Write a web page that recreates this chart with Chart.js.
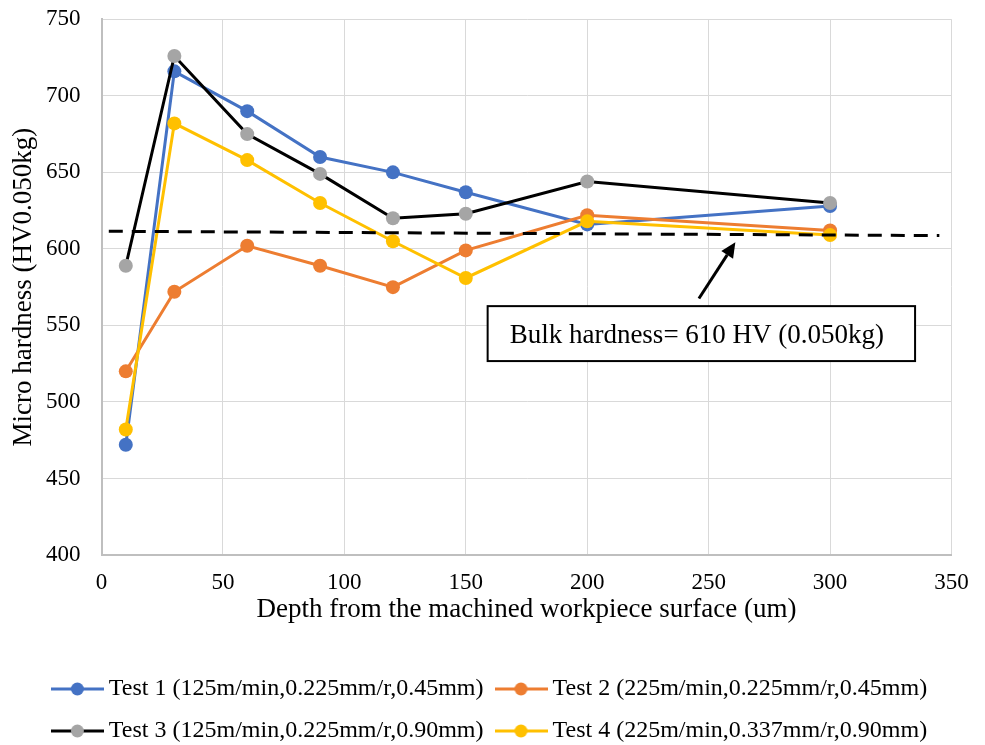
<!DOCTYPE html>
<html><head><meta charset="utf-8">
<script src="https://cdn.jsdelivr.net/npm/chart.js@4"></script>
<style>html,body{margin:0;padding:0;background:#fff}#wrap{width:985px;height:745px;position:relative}</style>
</head><body><div id="wrap"><canvas id="c"></canvas></div>
<script>
// ---- data ----
const depths = [10, 30, 60, 90, 120, 150, 200, 300];
const test1 = [472, 716, 690, 660, 650, 637, 616, 628];
const test2 = [520, 572, 602, 589, 575, 599, 622, 612];
const test3 = [589, 726, 675, 649, 620, 623, 644, 630];
const test4 = [482, 682, 658, 630, 605, 581, 618, 609];
const seriesNames = [
  'Test 1 (125m/min,0.225mm/r,0.45mm)',
  'Test 2 (225m/min,0.225mm/r,0.45mm)',
  'Test 3 (125m/min,0.225mm/r,0.90mm)',
  'Test 4 (225m/min,0.337mm/r,0.90mm)'
];
const bulkHardness = 610;
const bulkLineX = [3, 345];
const bulkLineY = [611.5, 608.7];
const noteText = 'Bulk hardness= ' + bulkHardness + ' HV (0.050kg)';
const noteBoxX = [159, 335];
const noteBoxY = [526.7, 562.6];
const arrowX = [246, 261];
const arrowY = [567.6, 604.3];
const xTitle = 'Depth from the machined workpiece surface (um)';
const yTitle = 'Micro hardness (HV0.050kg)';

// ---- styles ----
const FONT = "'Liberation Serif', 'Times New Roman', serif";
const lineColors = ['#4472C4', '#ED7D31', '#000000', '#FFC000'];
const markColors = ['#4472C4', '#ED7D31', '#A5A5A5', '#FFC000'];
const seriesData = [test1, test2, test3, test4];
const drawOrder = [4, 3, 2, 1];

function legendImage(line, mark) {
  const c = document.createElement('canvas');
  c.width = 53; c.height = 16;
  const g = c.getContext('2d');
  g.strokeStyle = line; g.lineWidth = 3;
  g.beginPath(); g.moveTo(0, 8); g.lineTo(53, 8); g.stroke();
  g.fillStyle = mark;
  g.beginPath(); g.arc(26.5, 8, 6.5, 0, Math.PI * 2); g.fill();
  return c;
}
const legendImgs = lineColors.map((c, i) => legendImage(c, markColors[i]));

const datasets = seriesData.map((vals, i) => ({
  label: seriesNames[i],
  data: depths.map((d, j) => ({x: d, y: vals[j]})),
  borderColor: lineColors[i],
  backgroundColor: markColors[i],
  pointBackgroundColor: markColors[i],
  pointBorderColor: markColors[i],
  pointRadius: 7,
  pointBorderWidth: 0,
  borderWidth: 3,
  tension: 0,
  order: drawOrder[i]
}));
datasets.push({
  label: 'bulk',
  data: bulkLineX.map((x, j) => ({x: x, y: bulkLineY[j]})),
  borderColor: '#000',
  borderWidth: 3,
  borderDash: [14, 9],
  pointRadius: 0,
  order: 0
});

const notePlugin = {
  id: 'note',
  afterDatasetsDraw(chart) {
    const {ctx, scales: {x, y}} = chart;
    ctx.save();
    // arrow
    const x0 = x.getPixelForValue(arrowX[0]), y0 = y.getPixelForValue(arrowY[0]);
    const x1 = x.getPixelForValue(arrowX[1]), y1 = y.getPixelForValue(arrowY[1]);
    const ang = Math.atan2(y1 - y0, x1 - x0);
    const hl = 15, hw = 7;
    const bx = x1 - hl * Math.cos(ang), by = y1 - hl * Math.sin(ang);
    ctx.strokeStyle = '#000'; ctx.fillStyle = '#000'; ctx.lineWidth = 3;
    ctx.beginPath(); ctx.moveTo(x0, y0); ctx.lineTo(bx, by); ctx.stroke();
    ctx.beginPath();
    ctx.moveTo(x1, y1);
    ctx.lineTo(bx + hw * Math.sin(ang), by - hw * Math.cos(ang));
    ctx.lineTo(bx - hw * Math.sin(ang), by + hw * Math.cos(ang));
    ctx.closePath(); ctx.fill();
    // box
    const l = x.getPixelForValue(noteBoxX[0]), r = x.getPixelForValue(noteBoxX[1]);
    const t = y.getPixelForValue(noteBoxY[1]), b = y.getPixelForValue(noteBoxY[0]);
    ctx.fillStyle = '#fff';
    ctx.fillRect(l, t, r - l, b - t);
    ctx.lineWidth = 2; ctx.strokeStyle = '#000';
    ctx.strokeRect(l, t, r - l, b - t);
    ctx.fillStyle = '#000';
    ctx.font = '27px ' + FONT;
    ctx.textAlign = 'left'; ctx.textBaseline = 'alphabetic';
    ctx.fillText(noteText, l + 22, (t + b) / 2 + 9);
    ctx.restore();
  }
};

new Chart(document.getElementById('c'), {
  type: 'line',
  data: {datasets},
  plugins: [notePlugin],
  options: {
    responsive: true,
    maintainAspectRatio: false,
    animation: false,
    events: [],
    layout: {padding: {left: 0, right: 0, top: 19.3, bottom: -8}},
    scales: {
      x: {
        type: 'linear', min: 0, max: 350,
        ticks: {stepSize: 50, color: '#000', padding: 14, font: {family: FONT, size: 23}, maxRotation: 0},
        grid: {color: '#d9d9d9', lineWidth: 1, drawTicks: false},
        border: {color: '#bfbfbf', width: 2},
        title: {display: true, text: xTitle, color: '#000', font: {family: FONT, size: 27}, padding: {top: 0, bottom: 33.3}},
        afterFit(s) { s.height = 104; s.paddingRight = 33.5; s.paddingLeft = 0; }
      },
      y: {
        min: 400, max: 750,
        ticks: {stepSize: 50, color: '#000', padding: 21, font: {family: FONT, size: 23}},
        grid: {color: '#d9d9d9', lineWidth: 1, drawTicks: false},
        border: {color: '#bfbfbf', width: 2},
        title: {display: true, text: yTitle, color: '#000', font: {family: FONT, size: 27}, padding: {top: 8, bottom: 0}},
        afterFit(s) { s.width = 101.5; s.paddingTop = 0; s.paddingBottom = 0; }
      }
    },
    plugins: {
      tooltip: {enabled: false},
      legend: {
        position: 'bottom',
        labels: {
          usePointStyle: true,
          pointStyleWidth: 39,
          padding: 18,
          color: '#000',
          font: {family: FONT, size: 24},
          generateLabels(chart) {
            return seriesNames.map((n, i) => ({
              text: n, datasetIndex: i, hidden: false,
              pointStyle: legendImgs[i], fontColor: '#000',
              fillStyle: markColors[i], strokeStyle: lineColors[i], lineWidth: 0
            }));
          }
        }
      }
    }
  }
});
</script>
</body></html>
